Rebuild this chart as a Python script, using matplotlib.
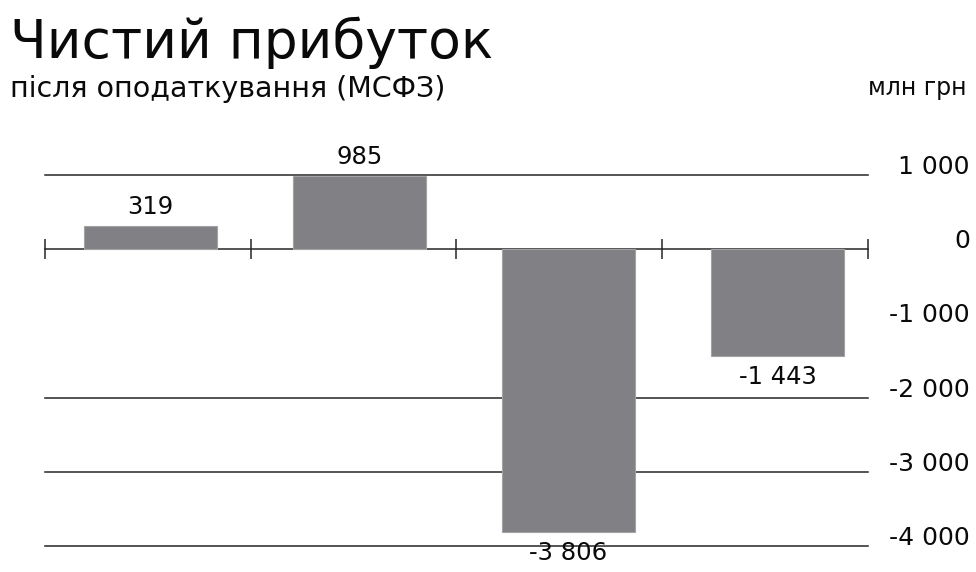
import matplotlib
matplotlib.use("Agg")
import matplotlib.pyplot as plt
import matplotlib.transforms as mtransforms

# ---- data ----
categories = ["1", "2", "3", "4"]
values = [319, 985, -3806, -1443]
value_labels = ["319", "985", "-3 806", "-1 443"]
grid_values = [1000, 0, -2000, -3000, -4000]
tick_values = [1000, 0, -1000, -2000, -3000, -4000]
tick_labels = ["1 000", "0", "-1 000", "-2 000", "-3 000", "-4 000"]
title = "Чистий прибуток"
subtitle = "після оподаткування (МСФЗ)"
unit = "млн грн"

plt.rcParams['font.family'] = ['DejaVu Sans']

W, H = 976, 572
fig = plt.figure(figsize=(W / 100, H / 100), dpi=100)

left_px, right_px = 45, 868
top_px, bottom_px = 175, 546
ax = fig.add_axes([left_px / W, 1 - bottom_px / H, (right_px - left_px) / W, (bottom_px - top_px) / H])
ax.set_xlim(-0.505, len(categories) - 0.567)
ax.set_ylim(-4000, 1000)
ax.axis("off")

line_color = "#262626"
bar_color = "#818185"
text_color = "#0a0a0a"

for g in grid_values:
    ax.axhline(g, color=line_color, lw=1.1, zorder=1, clip_on=False)

x = list(range(len(categories)))
ax.bar(x, values, width=0.635, color=bar_color, edgecolor="#a3a3a6", linewidth=0.8, zorder=2)

# tick marks on zero line at category boundaries (evenly spaced across axes)
n = len(categories)
bounds = [i / n for i in range(n + 1)]
tick_trans = mtransforms.blended_transform_factory(ax.transAxes, ax.transData)
ax.plot(bounds, [0] * len(bounds), linestyle="none", marker="|", markersize=15,
        markeredgewidth=1.1, color=line_color, zorder=3, clip_on=False, transform=tick_trans)

# value labels
for xi, v, lab in zip(x, values, value_labels):
    if v >= 0:
        off = mtransforms.offset_copy(ax.transData, fig=fig, x=0, y=12, units="dots")
        ax.text(xi, v, lab, ha="center", va="baseline", fontsize=17.5, color=text_color,
                transform=off, clip_on=False)
    else:
        off = mtransforms.offset_copy(ax.transData, fig=fig, x=0, y=-9, units="dots")
        ax.text(xi, v, lab, ha="center", va="top", fontsize=17.5, color=text_color,
                transform=off, clip_on=False)

# right tick labels
trans = mtransforms.blended_transform_factory(fig.transFigure, ax.transData)
for tv, tl in zip(tick_values, tick_labels):
    off = mtransforms.offset_copy(trans, fig=fig, x=0, y=1, units="dots")
    ax.text(970 / W, tv, tl, ha="right", va="baseline", fontsize=18, color=text_color,
            transform=off, clip_on=False)

# titles
fig.text(10 / W, 1 - 58 / H, title, fontsize=38.5, color=text_color, ha="left", va="baseline")
fig.text(10 / W, 1 - 97 / H, subtitle, fontsize=20.5, color=text_color, ha="left", va="baseline")
fig.text(967 / W, 1 - 95 / H, unit, fontsize=17, color=text_color, ha="right", va="baseline")

fig.savefig("out.png", dpi=100)
